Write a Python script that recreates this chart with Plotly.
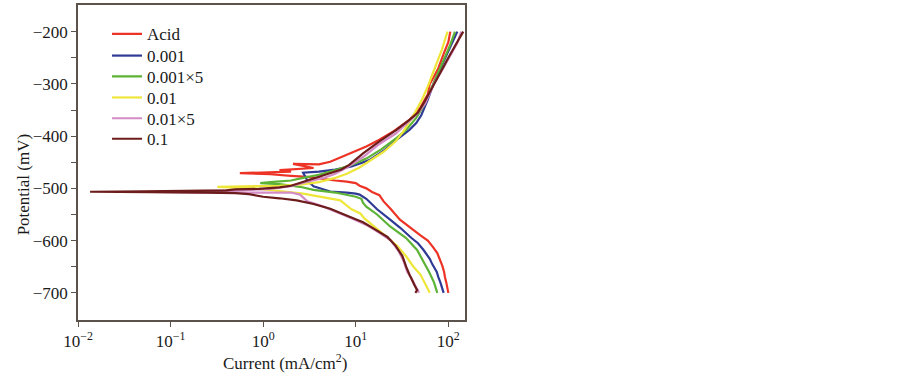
import plotly.graph_objects as go

# ---------------- data (current mA/cm2, potential mV) ----------------
names = ["Acid", "0.001", "0.001×5", "0.01", "0.01×5", "0.1"]
colors = ["#ec3325", "#2f3a95", "#5db335", "#eee63a", "#d48cc6", "#6c1d1b"]

acid_i = [100, 98, 95, 92, 90, 86, 80, 76, 68, 60, 50, 42, 36, 30, 24, 20, 18, 15, 13, 11, 10, 8, 6, 4.1, 3, 2, 1.2, 0.56,
          1.2, 2.0, 1.5, 2.5, 3.5, 2.1, 4, 5.3, 8.7, 13, 18, 26, 38, 50, 60, 63, 68, 78, 90, 100, 105]
acid_e = [-700, -690, -680, -670, -660, -648, -635, -624, -612, -600, -590, -580, -570, -560, -540, -525, -513, -507, -500, -495, -490, -487, -485, -481, -478, -476, -473, -471,
          -470, -468, -465, -462, -461, -453, -454, -449, -433, -420, -407, -390, -369, -345, -320, -300, -290, -270, -240, -220, -200]

b001_i = [89, 86, 82, 78, 75, 67, 63, 54, 47, 40, 30, 23.5, 17, 13, 11, 10, 8, 5.3, 3.5, 3.0, 2.7,
          4, 6, 9, 14, 20, 27.5, 38, 45, 51, 60, 69, 80, 92, 108, 125]
b001_e = [-700, -690, -680, -670, -660, -645, -635, -618, -605, -595, -575, -560, -540, -520, -512, -510, -508, -506, -496, -485, -470,
          -468, -464, -458, -446, -428, -407, -388, -375, -360, -330, -300, -275, -250, -225, -200]

g0015_i = [76, 73, 70, 62, 56, 52, 46, 35, 23.5, 17, 13, 12, 11.5, 10, 6, 3.5, 2.5, 1.5, 0.93,
           1.2, 2, 2.7, 4, 6.3, 9, 13, 19, 27, 35, 45, 55, 65, 75, 90, 105, 118]
g0015_e = [-700, -690, -680, -660, -645, -635, -618, -595, -573, -550, -535, -528, -520, -516, -508, -503, -497, -492, -490,
           -488, -485, -480, -474, -464, -455, -443, -425, -405, -388, -365, -340, -310, -285, -255, -225, -200]

y001_i = [63, 60, 57, 50, 42, 35, 28, 21.5, 16, 12.5, 11.2, 9, 6.8, 4.5, 2.7, 1.5, 0.8, 0.32,
          0.8, 1.5, 2.5, 4, 6, 8, 11, 15, 20, 27, 33, 42, 52, 60, 65, 75, 85, 98]
y001_e = [-700, -692, -685, -665, -650, -630, -610, -593, -575, -558, -548, -540, -523, -517, -510, -505, -500, -497,
          -496, -495, -493, -488, -480, -472, -460, -445, -430, -410, -390, -360, -330, -305, -290, -260, -235, -200]

p0015_i = [48, 47, 45, 40, 36, 33, 29, 24, 18, 13, 9, 6, 4.5, 3, 2.5, 2, 1.2, 0.5, 0.2, 0.065,
           0.2, 0.5, 1.2, 2, 3, 4.5, 6, 8, 12, 18, 27, 38, 47, 56, 63, 71, 85, 105, 125, 138]
p0015_e = [-700, -695, -690, -672, -660, -640, -620, -600, -585, -570, -557, -545, -535, -525, -512, -508, -508, -509, -508, -507,
           -506, -504, -501, -496, -487, -480, -472, -460, -440, -415, -395, -372, -356, -338, -318, -298, -275, -245, -222, -200]

b01_i = [44, 46, 43, 40, 38, 35, 32, 27, 22, 16, 12, 8.7, 5.3, 3.5, 2.3, 1.5, 1.0, 0.7, 0.5, 0.25, 0.1, 0.0135,
         0.05, 0.15, 0.4, 0.5, 0.9, 1.5, 2, 3, 4, 5.3, 7, 8.5, 12, 18, 27.5, 38, 47, 55, 62, 69, 80, 100, 120, 140, 145]
b01_e = [-700, -695, -685, -675, -665, -650, -630, -610, -593, -578, -565, -555, -539, -530, -523, -519, -516, -511, -509, -508, -507.5, -506.5,
         -505.5, -505, -504, -502, -501, -498, -495, -485, -478, -472, -464, -455, -433, -410, -388, -369, -355, -335, -318, -300, -280, -250, -225, -205, -200]

currents = [acid_i, b001_i, g0015_i, y001_i, p0015_i, b01_i]
potentials = [acid_e, b001_e, g0015_e, y001_e, p0015_e, b01_e]

x_tickvals = [0.01, 0.1, 1, 10, 100]
x_ticktext = ["10<sup>−2</sup>", "10<sup>−1</sup>", "10<sup>0</sup>", "10<sup>1</sup>", "10<sup>2</sup>"]
y_tickvals = [-700, -600, -500, -400, -300, -200]
y_minorvals = [-650, -550, -450, -350, -250]

# ---------------- figure ----------------
FONT = "Liberation Serif, Times New Roman, serif"
FRAME = "#5c524c"
TXT = "#1a1a1a"

# legend row centres (paper fraction) so rows sit ~21 px apart as in the source
legend_rows = [0.907, 0.838, 0.772, 0.705, 0.639, 0.574]

fig = go.Figure()
legend_layout = {}
for k, (n, c, xi, ye) in enumerate(zip(names, colors, currents, potentials)):
    lname = "legend" if k == 0 else f"legend{k + 1}"
    fig.add_trace(go.Scatter(x=xi, y=ye, mode="lines", name=n, legend=lname,
                             line=dict(color=c, width=2.2)))
    legend_layout[lname] = dict(x=0.075, y=legend_rows[k], xanchor="left", yanchor="middle",
                                bgcolor="rgba(0,0,0,0)", borderwidth=0,
                                font=dict(family=FONT, size=17, color=TXT))

fig.update_layout(
    width=903, height=373,
    margin=dict(l=78, r=438, t=5, b=53),
    paper_bgcolor="white", plot_bgcolor="white",
    font=dict(family=FONT, size=17, color=TXT),
    showlegend=True,
    xaxis=dict(type="log", range=[-2, 2.18], automargin=False,
               tickmode="array", tickvals=x_tickvals, ticktext=x_ticktext,
               ticks="outside", ticklen=5, tickwidth=1.3, tickcolor=FRAME,
               showline=True, linecolor=FRAME, linewidth=1.5, mirror=True,
               showgrid=False, zeroline=False,
               tickfont=dict(family=FONT, size=17, color=TXT)),
    yaxis=dict(range=[-752, -149], automargin=False,
               tickmode="array", tickvals=y_tickvals,
               ticks="outside", ticklen=5, tickwidth=1.3, tickcolor=FRAME,
               minor=dict(tickmode="array", tickvals=y_minorvals, ticks="outside",
                          ticklen=5, tickwidth=1.3, tickcolor=FRAME, showgrid=False),
               showline=True, linecolor=FRAME, linewidth=1.5, mirror=True,
               showgrid=False, zeroline=False,
               tickfont=dict(family=FONT, size=17, color=TXT)),
    annotations=[
        dict(text="Current (mA/cm<sup>2</sup>)", xref="paper", yref="paper",
             x=0.535, y=-0.133, xanchor="center", yanchor="middle",
             showarrow=False, font=dict(family=FONT, size=17, color=TXT)),
        dict(text="Potential (mV)", xref="paper", yref="paper",
             x=-0.14, y=0.43, xanchor="center", yanchor="middle", textangle=-90,
             showarrow=False, font=dict(family=FONT, size=17, color=TXT)),
    ],
    **legend_layout,
)

fig.write_html("out.html", config={"displayModeBar": False},
               post_script="document.body.style.margin='0';")
